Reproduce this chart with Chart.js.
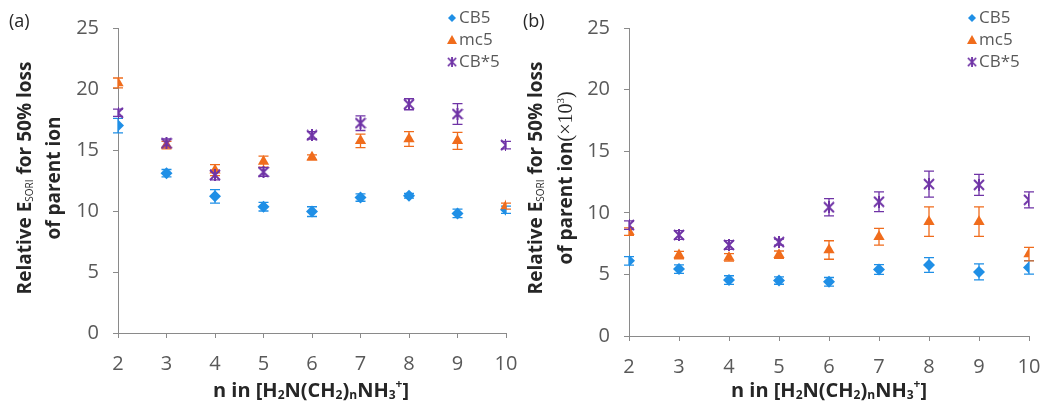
<!DOCTYPE html>
<html>
<head>
<meta charset="utf-8">
<script src="https://cdn.jsdelivr.net/npm/chart.js@4/dist/chart.umd.min.js"></script>
<style>
  html, body { margin: 0; padding: 0; background: #ffffff; }
  #wrap { position: relative; width: 1049px; height: 406px; overflow: hidden; }
  canvas { position: absolute; top: 0; }
  #panelA { left: 0; }
  #panelB { left: 520px; }
</style>
</head>
<body>
<div id="wrap">
  <canvas id="panelA" width="520" height="406"></canvas>
  <canvas id="panelB" width="529" height="406"></canvas>
</div>
<script>
// chain length n of the diammonium alkane guest
const nValues = [2, 3, 4, 5, 6, 7, 8, 9, 10];
const xTicks = [2, 3, 4, 5, 6, 7, 8, 9, 10];
const yTicks = [0, 5, 10, 15, 20, 25];
const seriesNames = ['CB5', 'mc5', 'CB*5'];

// (a) relative E_SORI for 50 % loss of parent ion
const cb5A     = [17.0, 13.1, 11.2, 10.35, 9.95, 11.1, 11.25, 9.8, 10.1];
const cb5AErr  = [0.6, 0.3, 0.55, 0.35, 0.4, 0.3, 0.2, 0.35, 0.3];
const mc5A     = [20.5, 15.4, 13.35, 14.05, 14.4, 15.75, 15.9, 15.75, 10.4];
const mc5AErr  = [0.4, 0.3, 0.45, 0.45, 0.2, 0.55, 0.6, 0.7, 0.25];
const cbsA     = [18.05, 15.55, 12.95, 13.2, 16.2, 17.2, 18.75, 17.95, 15.4];
const cbsAErr  = [0.3, 0.35, 0.4, 0.35, 0.3, 0.6, 0.45, 0.85, 0.3];

// (b) same quantity, scaled by 10^3
const cb5B     = [6.1, 5.43, 4.54, 4.5, 4.4, 5.4, 5.76, 5.2, 5.57];
const cb5BErr  = [0.35, 0.35, 0.35, 0.3, 0.35, 0.4, 0.6, 0.65, 0.55];
const mc5B     = [8.47, 6.57, 6.38, 6.6, 6.98, 8.06, 9.28, 9.28, 6.65];
const mc5BErr  = [0.3, 0.3, 0.3, 0.3, 0.75, 0.68, 1.2, 1.2, 0.55];
const cbsB     = [9.0, 8.2, 7.39, 7.62, 10.45, 10.9, 12.33, 12.27, 11.05];
const cbsBErr  = [0.35, 0.35, 0.35, 0.25, 0.7, 0.8, 1.05, 0.85, 0.65];

const BLUE = '#1f8fe6';
const ORANGE = '#f06c1c';
const PURPLE = '#6f33a6';
const TICK_COLOR = '#595959';
const AXIS_COLOR = '#8a8a8a';
const TITLE_COLOR = '#262626';
const SANS = '"Open Sans", Lato, sans-serif';
const SERIF = '"Liberation Serif", "DejaVu Serif", serif';

// asterisk marker: an X crossed by a vertical stroke
function makeStar(color, size) {
  const c = document.createElement('canvas');
  c.width = size; c.height = size;
  const g = c.getContext('2d');
  g.strokeStyle = color;
  g.lineWidth = 2;
  g.lineCap = 'butt';
  const m = 1, s = size - 1;
  g.beginPath();
  g.moveTo(m, m); g.lineTo(s, s);
  g.moveTo(s, m); g.lineTo(m, s);
  g.moveTo(size / 2, 0); g.lineTo(size / 2, size);
  g.stroke();
  return c;
}
const starMarker = makeStar(PURPLE, 12);

function points(values) {
  return nValues.map((n, i) => ({ x: n, y: values[i] }));
}

// text made of runs (subscripts, superscripts, font switches), centred on (cx, cy)
function drawRuns(ctx, runs, cx, cy, rotate, size, color) {
  ctx.save();
  ctx.translate(cx, cy);
  if (rotate) ctx.rotate(-Math.PI / 2);
  ctx.fillStyle = color;
  ctx.textBaseline = 'middle';
  ctx.textAlign = 'left';
  const fontOf = r => `${r.weight || 'bold'} ${Math.round(size * (r.scale || 1))}px ${r.family || SANS}`;
  let total = 0;
  runs.forEach(r => { ctx.font = fontOf(r); r.w = ctx.measureText(r.t).width; total += r.w; });
  let x = -total / 2;
  runs.forEach(r => {
    ctx.font = fontOf(r);
    ctx.fillText(r.t, x, (r.dy || 0) * size);
    x += r.w;
  });
  ctx.restore();
}

const errorBars = {
  id: 'errorBars',
  beforeDatasetsDraw(chart) {
    const { ctx, scales: { x, y } } = chart;
    ctx.save();
    chart.data.datasets.forEach(ds => {
      if (!ds.errors) return;
      ctx.strokeStyle = ds.borderColor;
      ctx.lineWidth = 1.3;
      ds.data.forEach((p, i) => {
        const e = ds.errors[i];
        const px = x.getPixelForValue(p.x);
        const top = y.getPixelForValue(p.y + e);
        const bot = y.getPixelForValue(p.y - e);
        ctx.beginPath();
        ctx.moveTo(px, top); ctx.lineTo(px, bot);
        ctx.moveTo(px - 5, top); ctx.lineTo(px + 5, top);
        ctx.moveTo(px - 5, bot); ctx.lineTo(px + 5, bot);
        ctx.stroke();
      });
    });
    ctx.restore();
  }
};

const annotations = {
  id: 'annotations',
  afterDraw(chart, args, o) {
    const ctx = chart.ctx;
    // panel letter
    ctx.save();
    ctx.fillStyle = TITLE_COLOR;
    ctx.font = `18px ${SANS}`;
    ctx.textBaseline = 'middle';
    ctx.fillText(o.letter, o.letterX, 22);
    ctx.restore();
    // y-axis title, two lines
    drawRuns(ctx, [
      { t: 'Relative E' },
      { t: 'SORI', scale: 0.5, weight: 'normal', dy: 0.22 },
      { t: ' for 50% loss' }
    ], o.yTitleX1, o.yTitleY, true, 19, TITLE_COLOR);
    drawRuns(ctx, o.line2, o.yTitleX2, o.yTitleY, true, 19, TITLE_COLOR);
    // x-axis title
    drawRuns(ctx, [
      { t: 'n in [H' }, { t: '2', scale: 0.62, dy: 0.25 },
      { t: 'N(CH' }, { t: '2', scale: 0.62, dy: 0.25 },
      { t: ')' }, { t: 'n', scale: 0.62, dy: 0.25 },
      { t: 'NH' }, { t: '3', scale: 0.62, dy: 0.25 },
      { t: '+', scale: 0.62, dy: -0.3 }, { t: ']' }
    ], o.xTitleX, 391, false, 20, TITLE_COLOR);
    // legend
    ctx.save();
    ctx.font = `17px ${SANS}`;
    ctx.textBaseline = 'middle';
    chart.data.datasets.forEach((ds, i) => {
      const yy = 18 + i * 22;
      const mx = o.legendX;
      ctx.fillStyle = ds.backgroundColor;
      if (ds.pointStyle === 'rectRot') {
        ctx.beginPath();
        ctx.moveTo(mx, yy - 4); ctx.lineTo(mx + 4, yy); ctx.lineTo(mx, yy + 4); ctx.lineTo(mx - 4, yy);
        ctx.closePath(); ctx.fill();
      } else if (ds.pointStyle === 'triangle') {
        ctx.beginPath();
        ctx.moveTo(mx, yy - 5); ctx.lineTo(mx + 5, yy + 4); ctx.lineTo(mx - 5, yy + 4);
        ctx.closePath(); ctx.fill();
      } else {
        ctx.drawImage(ds.pointStyle, mx - 5, yy - 5, 10, 10);
      }
      ctx.fillStyle = TICK_COLOR;
      ctx.fillText(ds.label, mx + 7, yy);
    });
    ctx.restore();
  }
};

function makePanel(id, vals, layout) {
  const datasets = [
    { label: seriesNames[0], data: points(vals[0]), errors: vals[1],
      pointStyle: 'rectRot', pointRadius: 6, backgroundColor: BLUE, borderColor: BLUE,
      borderWidth: 0, order: 3 },
    { label: seriesNames[1], data: points(vals[2]), errors: vals[3],
      pointStyle: 'triangle', pointRadius: 6.5, backgroundColor: ORANGE, borderColor: ORANGE,
      borderWidth: 0, order: 2 },
    { label: seriesNames[2], data: points(vals[4]), errors: vals[5],
      pointStyle: starMarker, pointRadius: 6, backgroundColor: PURPLE, borderColor: PURPLE,
      borderWidth: 0, order: 1 }
  ];
  return new Chart(document.getElementById(id), {
    type: 'scatter',
    data: { datasets },
    options: {
      responsive: false,
      animation: false,
      events: [],
      layout: { padding: { left: 0, top: layout.top, right: layout.right, bottom: 0 } },
      plugins: {
        legend: { display: false },
        tooltip: { enabled: false },
        annotations: layout.ann
      },
      scales: {
        x: {
          type: 'linear', min: 2, max: 10,
          afterBuildTicks: s => { s.ticks = xTicks.map(v => ({ value: v })); },
          afterFit: s => { s.height = layout.xHeight; s.paddingLeft = 0; s.paddingRight = 0; },
          grid: { display: true, drawOnChartArea: false, drawTicks: true, tickLength: 5, color: AXIS_COLOR },
          border: { display: true, color: AXIS_COLOR, width: 1 },
          ticks: { color: TICK_COLOR, font: { family: SANS, size: 20 }, padding: 14, maxRotation: 0 }
        },
        y: {
          type: 'linear', min: 0, max: 25,
          afterBuildTicks: s => { s.ticks = yTicks.map(v => ({ value: v })); },
          afterFit: s => { s.width = layout.yWidth; s.paddingTop = 0; s.paddingBottom = 0; },
          grid: { display: true, drawOnChartArea: false, drawTicks: true, tickLength: 5, color: AXIS_COLOR },
          border: { display: true, color: AXIS_COLOR, width: 1 },
          ticks: { color: TICK_COLOR, font: { family: SANS, size: 20 }, padding: 14 }
        }
      }
    },
    plugins: [errorBars, annotations]
  });
}

makePanel('panelA', [cb5A, cb5AErr, mc5A, mc5AErr, cbsA, cbsAErr], {
  top: 28, right: 14, xHeight: 73, yWidth: 118,
  ann: {
    letter: '(a)', letterX: 9, legendX: 452,
    yTitleX1: 26, yTitleX2: 55, yTitleY: 178, xTitleX: 311,
    line2: [{ t: 'of parent ion' }]
  }
});

makePanel('panelB', [cb5B, cb5BErr, mc5B, mc5BErr, cbsB, cbsBErr], {
  top: 28, right: 20, xHeight: 70, yWidth: 109,
  ann: {
    letter: '(b)', letterX: 3, legendX: 452,
    yTitleX1: 17, yTitleX2: 47, yTitleY: 178, xTitleX: 309,
    line2: [
      { t: 'of parent ion' },
      { t: '(\u00d710', weight: 'normal', family: SERIF, scale: 1.05 },
      { t: '3', weight: 'normal', family: SERIF, scale: 0.6, dy: -0.3 },
      { t: ')', weight: 'normal', family: SERIF, scale: 1.05 }
    ]
  }
});
</script>
</body>
</html>
